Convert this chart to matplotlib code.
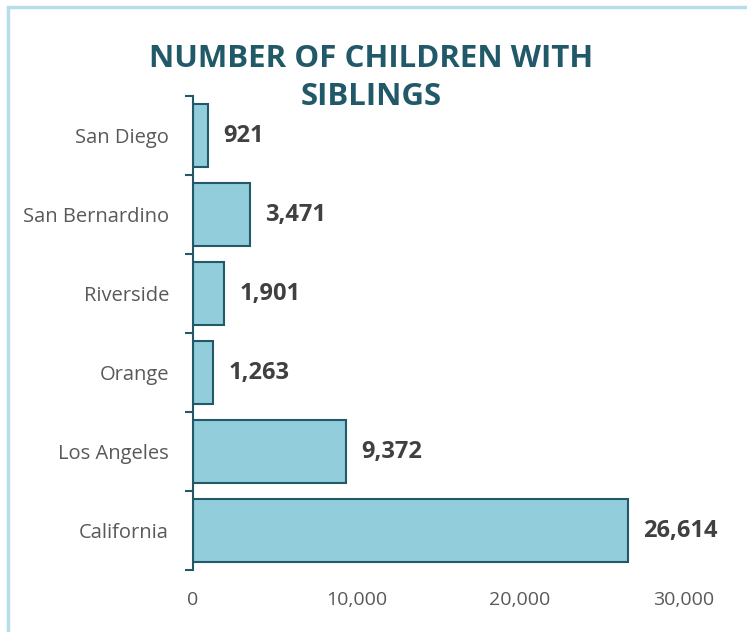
import matplotlib.pyplot as plt
from matplotlib.patches import Rectangle
from matplotlib.ticker import FuncFormatter, FixedLocator

counties = ["California", "Los Angeles", "Orange", "Riverside", "San Bernardino", "San Diego"]
children = [26614, 9372, 1263, 1901, 3471, 921]
xticks = [0, 10000, 20000, 30000]

bar_fill = "#92CDDC"
bar_edge = "#215968"
title_col = "#215968"

plt.rcParams["font.family"] = ["Open Sans", "DejaVu Sans"]

fig = plt.figure(figsize=(7.47, 6.32), dpi=100)
ax = fig.add_axes([0.258, 0.098, 0.657, 0.75])

y = range(len(counties))
ax.barh(y, children, height=0.8, color=bar_fill, edgecolor=bar_edge, linewidth=1.5)

for yi, v in zip(y, children):
    ax.annotate(f"{v:,}", (v, yi), xytext=(11, 0), textcoords="offset points",
                va="center", ha="left", fontsize=17, fontweight="bold", color="#404040")

ax.set_xlim(0, 30000)
ax.set_ylim(-0.5, len(counties) - 0.5)
ax.set_xticks(xticks)
ax.xaxis.set_major_formatter(FuncFormatter(lambda v, p: f"{int(v):,}"))
ax.tick_params(axis="x", length=0, labelsize=14, labelcolor="#595959", pad=15)

ax.set_yticks(list(y))
ax.set_yticklabels(counties)
ax.tick_params(axis="y", which="major", length=0, labelsize=14.5, labelcolor="#595959", pad=17)
ax.yaxis.set_minor_locator(FixedLocator([i - 0.5 for i in range(len(counties) + 1)]))
ax.tick_params(axis="y", which="minor", length=6, width=1.5, color=bar_edge, direction="out")

for s in ["top", "right", "bottom"]:
    ax.spines[s].set_visible(False)
ax.spines["left"].set_color(bar_edge)
ax.spines["left"].set_linewidth(1.5)

fig.text(0.497, 0.876, "NUMBER OF CHILDREN WITH\nSIBLINGS", ha="center", va="center",
         fontsize=22.5, fontweight="bold", color=title_col, linespacing=1.35)

fig.patches.append(Rectangle((8 / 747, -0.1), 1.2, 1.1 - 7 / 632, transform=fig.transFigure,
                             fill=False, edgecolor="#B7DDE8", linewidth=2.5))

fig.savefig("out.png", dpi=100)
